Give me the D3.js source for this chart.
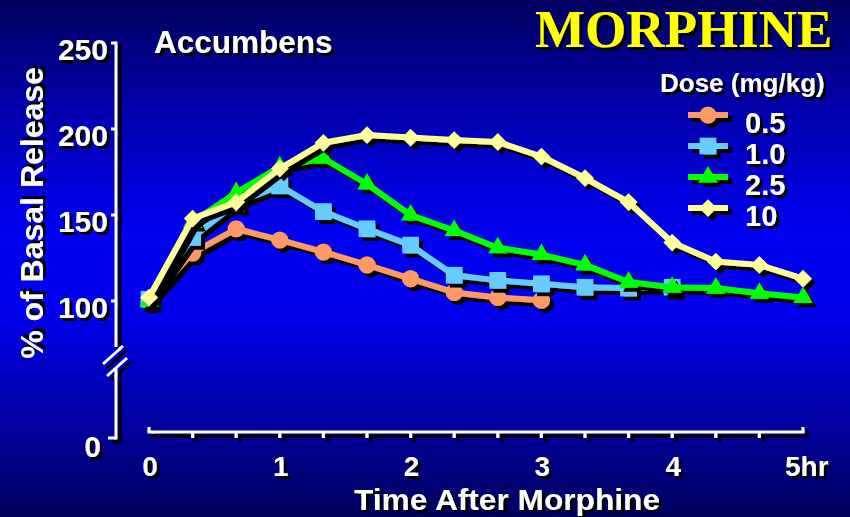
<!DOCTYPE html>
<html><head><meta charset="utf-8">
<script src="https://cdn.jsdelivr.net/npm/d3@7"></script>
<style>
html,body{margin:0;padding:0;background:#000080;}
svg{display:block;}
text{font-family:"Liberation Sans",Arial,sans-serif;font-weight:bold;fill:#fff;}
</style></head>
<body>
<script>
// ---- data ----
const timesMin = [0, 20, 40, 60, 80, 100, 120, 140, 160, 180, 200, 220, 240, 260, 280, 300];
const doseLabels = ["0.5", "1.0", "2.5", "10"];
const dose05 = [100, 128, 142, 135.5, 128.5, 121, 113, 105, 102, 100.5];
const dose1 = [101, 137, 157, 167, 152, 142, 132.5, 115, 112, 110, 108, 107.5, 108];
const dose25 = [100, 146, 163, 178, 183, 168, 150, 141, 131, 127, 121, 111, 108, 107.5, 104.5, 102];
const dose10 = [102, 148, 157.5, 177, 192, 196.5, 195, 193.6, 192.5, 184, 171.5, 157.5, 134, 123, 121, 113];
const yTickValues = [0, 100, 150, 200, 250];
const xTickLabelValues = [0, 60, 120, 180, 240, 300];
const xTickLabels = ["0", "1", "2", "3", "4", "5hr"];

const W = 850, H = 517;
const svg = d3.select("body").append("svg").attr("width", W).attr("height", H);
const defs = svg.append("defs");
const grad = defs.append("linearGradient").attr("id", "bg").attr("x1", 0).attr("y1", 0).attr("x2", 0).attr("y2", 1);
[[0, "#000060"], [0.2, "#0000a8"], [0.45, "#0000f2"], [0.6, "#0000ee"], [0.8, "#0000a8"], [1, "#00005c"]]
  .forEach(([o, c]) => grad.append("stop").attr("offset", o).attr("stop-color", c));
function shadowFilter(id, d) {
  const f = defs.append("filter").attr("id", id).attr("x", "-20%").attr("y", "-20%").attr("width", "150%").attr("height", "150%");
  f.append("feDropShadow").attr("dx", d).attr("dy", d).attr("stdDeviation", 0).attr("flood-color", "#000").attr("flood-opacity", 1);
}
shadowFilter("sh4", 4);
shadowFilter("sh3", 3);

svg.append("rect").attr("width", W).attr("height", H).attr("fill", "url(#bg)");

const x = d3.scaleLinear().domain([0, 300]).range([149, 803]);
const y = d3.scaleLinear().domain([0, 100, 250]).range([438, 301, 43]);

// ---- titles ----
svg.append("text").attr("x", 535).attr("y", 47).attr("filter", "url(#sh3)")
  .style("font-family", "'Liberation Serif','Times New Roman',serif").style("font-size", "53px").style("fill", "#ffff00")
  .text("MORPHINE");
svg.append("text").attr("x", 154).attr("y", 53).attr("filter", "url(#sh3)").style("font-size", "31.5px").text("Accumbens");
svg.append("text").attr("transform", "translate(43,213) rotate(-90)").attr("text-anchor", "middle")
  .attr("filter", "url(#sh3)").style("font-size", "32px").text("% of Basal Release");
svg.append("text").attr("x", 507).attr("y", 510).attr("text-anchor", "middle")
  .attr("textLength", 306).attr("lengthAdjust", "spacingAndGlyphs")
  .attr("filter", "url(#sh3)").style("font-size", "30px").text("Time After Morphine");

// ---- y axis ----
const axisX = 116;
const yAxisG = svg.append("g").attr("filter", "url(#sh4)");
const wline = (x1, y1, x2, y2) => yAxisG.append("line").attr("x1", x1).attr("y1", y1).attr("x2", x2).attr("y2", y2)
  .attr("stroke", "#fff").attr("stroke-width", 3);
wline(axisX, y(250) - 1.5, axisX, 347);
wline(axisX, 368, axisX, y(0) + 1.5);
wline(103, 364, 123, 346);
wline(107, 376, 127, 358);
yTickValues.forEach(v => wline(v === 0 ? 108 : 111, y(v), axisX, y(v)));
const yLab = svg.append("g").attr("filter", "url(#sh3)");
yTickValues.forEach(v => {
  yLab.append("text").attr("x", v === 0 ? 101 : 108).attr("y", y(v) + (v === 0 ? 19 : 17))
    .attr("text-anchor", "end").style("font-size", "30px").text(v);
});

// ---- x axis ----
const axisY = 432;
const xAxisG = svg.append("g").attr("filter", "url(#sh4)");
xAxisG.append("line").attr("x1", x(0) - 1.5).attr("x2", x(300) + 1.5).attr("y1", axisY).attr("y2", axisY)
  .attr("stroke", "#fff").attr("stroke-width", 3);
timesMin.forEach((t, i) => {
  const end = i === 0 || i === timesMin.length - 1;
  xAxisG.append("line").attr("x1", x(t)).attr("x2", x(t))
    .attr("y1", end ? axisY - 5 : axisY).attr("y2", end ? axisY : axisY + 6)
    .attr("stroke", "#fff").attr("stroke-width", 3);
});
const xLab = svg.append("g").attr("filter", "url(#sh3)");
xTickLabelValues.forEach((t, i) => {
  const last = i === xTickLabelValues.length - 1;
  xLab.append("text").attr("x", last ? x(t) - 18 : x(t) + 1).attr("y", 476)
    .attr("text-anchor", last ? "start" : "middle").style("font-size", "28px").text(xTickLabels[i]);
});

// ---- series ----
const series = [
  {label: doseLabels[0], values: dose05, color: "#ff9966", sym: d3.symbolCircle, size: 230, rot: 0},
  {label: doseLabels[1], values: dose1, color: "#66ccff", sym: d3.symbolSquare, size: 280, rot: 0},
  {label: doseLabels[2], values: dose25, color: "#00ff00", sym: d3.symbolTriangle, size: 160, rot: 0},
  {label: doseLabels[3], values: dose10, color: "#ffff99", sym: d3.symbolSquare, size: 155, rot: 45}
];
const line = d3.line().x(d => x(d[0])).y(d => y(d[1]));
series.forEach(s => {
  const pts = s.values.map((v, i) => [timesMin[i], v]);
  const g = svg.append("g").attr("filter", "url(#sh4)");
  g.append("path").attr("d", line(pts)).attr("fill", "none").attr("stroke", s.color)
    .attr("stroke-width", 6).attr("stroke-linejoin", "round");
  g.selectAll("path.m").data(pts).enter().append("path").attr("class", "m")
    .attr("d", d3.symbol().type(s.sym).size(s.size))
    .attr("transform", d => `translate(${x(d[0])},${y(d[1])}) rotate(${s.rot})`)
    .attr("fill", s.color);
});

// ---- legend ----
svg.append("text").attr("x", 660).attr("y", 92).attr("filter", "url(#sh3)").style("font-size", "26px").text("Dose (mg/kg)");
const legRowY = d3.scalePoint().domain(doseLabels).range([115, 208]);
series.forEach(s => {
  const ly = legRowY(s.label);
  const g = svg.append("g").attr("filter", "url(#sh4)");
  g.append("line").attr("x1", 688).attr("x2", 728).attr("y1", ly).attr("y2", ly).attr("stroke", s.color).attr("stroke-width", 6);
  g.append("path").attr("d", d3.symbol().type(s.sym).size(s.size)).attr("transform", `translate(708,${ly}) rotate(${s.rot})`).attr("fill", s.color);
  svg.append("text").attr("x", 745).attr("y", ly + 18).attr("filter", "url(#sh3)").style("font-size", "29px").text(s.label);
});
</script>
</body></html>
